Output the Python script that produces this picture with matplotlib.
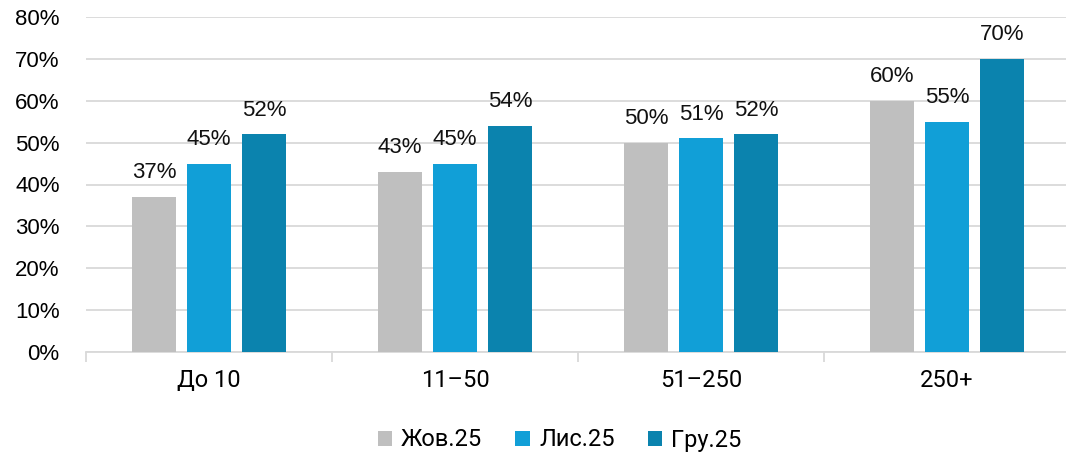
import matplotlib.pyplot as plt
import numpy as np

categories = ["До 10", "11–50", "51–250", "250+"]
series = ["Жов.25", "Лис.25", "Гру.25"]
values_oct = [37, 43, 50, 60]
values_aug = [45, 45, 51, 55]
values_dec = [52, 54, 52, 70]
colors = ["#bfbfbf", "#119fd7", "#0b83ae"]

fig = plt.figure(figsize=(10.66, 4.55), dpi=100)
ax = fig.add_axes([86 / 1066, 103 / 455, 984 / 1066, 335 / 455])

x = np.arange(len(categories))
width = 0.175
step = 0.2236
all_vals = [values_oct, values_aug, values_dec]
handles = []
for i, (name, vals, col) in enumerate(zip(series, all_vals, colors)):
    pos = x + (i - 1) * step
    b = ax.bar(pos, vals, width=width, color=col, label=name, zorder=3)
    handles.append(b)
    for px, v in zip(pos, vals):
        ax.annotate(f"{v}%", (px, v), xytext=(0, 13.5), textcoords="offset points",
                    ha="center", va="baseline", fontsize=16, family="Liberation Sans",
                    color="#111111")

ax.set_xlim(-0.5, 3.5)
ax.set_ylim(0, 80)
ax.set_yticks(range(0, 81, 10))
ax.set_yticklabels([f"{t}%" for t in range(0, 81, 10)], family="Liberation Sans", fontsize=16)
ax.yaxis.grid(True, color="#d9d9d9", linewidth=1.3, zorder=0)
ax.tick_params(axis="y", length=0, pad=19)

ax.set_xticks(np.arange(-0.5, 4, 1))
ax.set_xticklabels([])
ax.set_xticks(x, minor=True)
ax.set_xticklabels(categories, minor=True, family="Roboto", fontsize=17)
ax.tick_params(axis="x", which="major", length=7, color="#d9d9d9", width=1.3)
ax.tick_params(axis="x", which="minor", length=0, pad=12)

for s in ["top", "right", "left"]:
    ax.spines[s].set_visible(False)
ax.spines["bottom"].set_color("#d9d9d9")
ax.spines["bottom"].set_linewidth(1.3)

fig.legend(handles=handles, loc="center", bbox_to_anchor=(0.525, 1 - 440 / 455), ncol=3,
           frameon=False, prop={"family": "Roboto", "size": 17}, handlelength=0.6,
           handleheight=0.6, handletextpad=0.4, columnspacing=1.4)

fig.savefig("out.png", dpi=100)
